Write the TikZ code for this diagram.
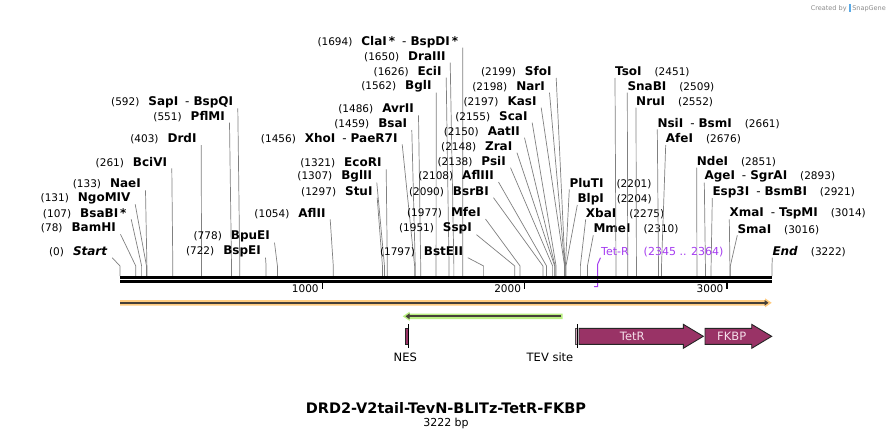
\documentclass[tikz,border=0pt]{standalone}
\usepackage{fontspec}
\setmainfont{DejaVu Sans}
\usepackage{tikz}
\usetikzlibrary{calc}
\usetikzlibrary{arrows.meta}
\definecolor{cutgray}{RGB}{128,128,128}
\definecolor{featpurple}{RGB}{153,51,102}
\definecolor{feattext}{RGB}{245,222,234}
\definecolor{primerviolet}{RGB}{165,60,240}
\definecolor{orfbar}{RGB}{255,204,128}
\definecolor{tevgreen}{RGB}{184,238,128}
\definecolor{barcore}{RGB}{70,64,56}
\definecolor{snapblue}{RGB}{90,170,230}
\newcommand*{\isodash}{\hspace{7pt}\textmd{-}\hspace{4pt}}
\newcommand*{\sitename}[1]{{\fontsize{12}{13}\selectfont\bfseries #1}}
\tikzstyle{sitelabel}=[inner sep=0pt, font=\fontsize{10.5}{13}\selectfont]
\tikzstyle{siteline}=[draw=cutgray, line width=0.7pt]
\tikzstyle{featbox}=[draw=black!85, line width=0.9pt, fill=featpurple]
\tikzstyle{featname}=[inner sep=0pt, font=\fontsize{11.5}{13}\selectfont]

\begin{document}
\begin{tikzpicture}[x=1pt, y=-1pt]
\useasboundingbox (0,0) rectangle (892,439);
\fill[white] (0,0) rectangle (892,439);

\node[inner sep=0pt, anchor=east, text=black!45, font=\fontsize{6.5}{8}\selectfont] (credit) at (886,8)
  {Created by \textcolor{snapblue}{\rule[-1pt]{2.5pt}{8pt}}\,SnapGene};

% sequence ends
\coordinate (seqL) at (120,277.3);
\coordinate (seqR) at (772,277.3);

% cut sites, label left of the line
\foreach \p/\xe/\yy/\nm [count=\i] in {
  0/107.7/251.7/{\textit{Start}},
  78/116/228.3/{BamHI},
  107/126.7/213.3/{BsaBI\,*},
  131/130.7/198.3/{NgoMIV},
  133/141/184.3/{NaeI},
  261/167.3/162.3/{BciVI},
  403/196.7/139/{DrdI},
  551/225/116.7/{PflMI},
  592/233.3/102.3/{SapI\isodash BspQI},
  722/261/251.7/{BspEI},
  778/270/236.7/{BpuEI},
  1054/325.7/213.3/{AflII},
  1297/372.7/191.7/{StuI},
  1307/372.3/176.7/{BglII},
  1321/381.7/163.3/{EcoRI},
  1456/397.7/138.3/{XhoI\isodash PaeR7I},
  1459/407.3/124/{BsaI},
  1486/414/109.3/{AvrII},
  1562/431.7/86.7/{BglI},
  1626/441.7/71.7/{EciI},
  1650/445.7/56.7/{DraIII},
  1694/458.3/41.7/{ClaI\,*\isodash BspDI\,*},
  1797/463.3/251.7/{BstEII},
  1951/472/228.7/{SspI},
  1977/481/213/{MfeI},
  2090/489/191.7/{BsrBI},
  2108/494/176/{AflIII},
  2138/506/161.7/{PsiI},
  2148/512.5/146.7/{ZraI},
  2150/520/131.7/{AatII},
  2155/527.7/116.7/{ScaI},
  2197/536.7/101.7/{KasI},
  2198/545/86.7/{NarI},
  2199/551.7/72/{SfoI}}{
  \pgfmathsetmacro{\sx}{120+\p/3222*652}
  \coordinate (sL\i) at (\sx,276);
  \node[sitelabel, anchor=east] (cL\i) at (\xe,\yy) {(\p)\hspace{9pt}\sitename{\nm}};
  \draw[siteline] ([shift={(4.5,6)}]cL\i.east) -- ([yshift=10pt]sL\i) -- (sL\i);
}

% cut sites, label right of the line
\foreach \p/\xs/\yy/\nm [count=\i] in {
  2201/569.3/183.3/{PluTI},
  2204/577.3/199/{BlpI},
  2275/585.7/213.3/{XbaI},
  2310/593.3/229.3/{MmeI},
  2451/615/72/{TsoI},
  2509/627.3/86.7/{SnaBI},
  2552/636/101.7/{NruI},
  2661/657.3/123.3/{NsiI\isodash BsmI},
  2676/665.7/139/{AfeI},
  2851/696.7/161.7/{NdeI},
  2893/704.3/176.7/{AgeI\isodash SgrAI},
  2921/712.3/192/{Esp3I\isodash BsmBI},
  3014/729.3/213.3/{XmaI\isodash TspMI},
  3016/737.3/229.3/{SmaI},
  3222/772.3/251.7/{\textit{End}}}{
  \pgfmathsetmacro{\sx}{120+\p/3222*652}
  \coordinate (sR\i) at (\sx,276);
  \node[sitelabel, anchor=west] (cR\i) at (\xs,\yy) {\sitename{\nm}\hspace{13pt}(\p)};
  \draw[siteline] ([shift={(0,6)}]cR\i.west) -- ([yshift=10pt]sR\i) -- (sR\i);
}

% primer
\node[sitelabel, anchor=west, text=primerviolet, font=\fontsize{11}{13}\selectfont] (tetR) at (601,251.7) {Tet-R\hspace{15pt}(2345 .. 2364)};
\coordinate (primer) at (597.5,286.5);
\draw[primerviolet, line width=1pt] ([shift={(-0.5,6)}]tetR.west) -- ([yshift=22pt]primer) -- (primer) -- ++(-3.5,0);

% sequence
\draw[line width=2.7pt] (seqL) -- (seqR);
\draw[line width=2.3pt] ([yshift=-4.2pt]seqL) -- ([yshift=-4.2pt]seqR);
\foreach \k in {1000,2000,3000}{
  \pgfmathsetmacro{\tx}{120+\k/3222*652}
  \coordinate (t\k) at (\tx,282);
  \draw[line width=1.5pt] (t\k) -- ++(0,7);
  \node[inner sep=0pt, anchor=east, font=\fontsize{10.5}{12}\selectfont] (tl\k) at (\tx-3.5,289) {\k};
}

% orange bar
\fill[orfbar] (120,300.1) -- (765,300.1) -- (765,298.3) -- (771.7,302.8) -- (765,307.3) -- (765,305.6) -- (120,305.6) -- cycle;
\draw[barcore, line width=1.8pt, -{Triangle[length=4pt,width=5.5pt]}] (120,302.8) -- (768.5,302.8);

% green bar
\fill[tevgreen] (562.7,313.5) -- (409.5,313.5) -- (409.5,311.8) -- (402.7,316.3) -- (409.5,320.8) -- (409.5,319.1) -- (562.7,319.1) -- cycle;
\draw[barcore, line width=1.8pt, -{Triangle[length=4pt,width=5.5pt]}] (561,316.3) -- (405.5,316.3);

% features
\draw[featbox, line width=0.6pt] (405,328.3) rectangle (408.3,344.3);
\draw[line width=0.8pt] (408.5,324.3) -- (408.5,348.3);
\node[featname] (nes) at (405.3,357.7) {NES};

\draw[draw=black!70, line width=0.5pt, fill=featpurple!45] (575.7,328.3) rectangle (577.3,344.3);
\draw[line width=0.8pt] (577.3,324.3) -- (577.3,348.3);
\node[featname] (tev) at (550,357.7) {TEV site};

\draw[featbox] (579,328.3) -- (683.3,328.3) -- (683.3,324.3) -- (703.3,336.3) -- (683.3,348.3) -- (683.3,344.3) -- (579,344.3) -- cycle;
\node[featname, text=feattext] (tetr) at (632.3,336.3) {TetR};
\draw[featbox] (705,328.3) -- (751.7,328.3) -- (751.7,324.3) -- (771.7,336.3) -- (751.7,348.3) -- (751.7,344.3) -- (705,344.3) -- cycle;
\node[featname, text=feattext] (fkbp) at (731.7,336.3) {FKBP};

% title
\node[inner sep=0pt, font=\fontsize{14.5}{16}\selectfont\bfseries] (title) at (446,408) {DRD2-V2tail-TevN-BLITz-TetR-FKBP};
\node[inner sep=0pt, font=\fontsize{11}{12}\selectfont] (size) at (446,423.3) {3222 bp};
\end{tikzpicture}
\end{document}
